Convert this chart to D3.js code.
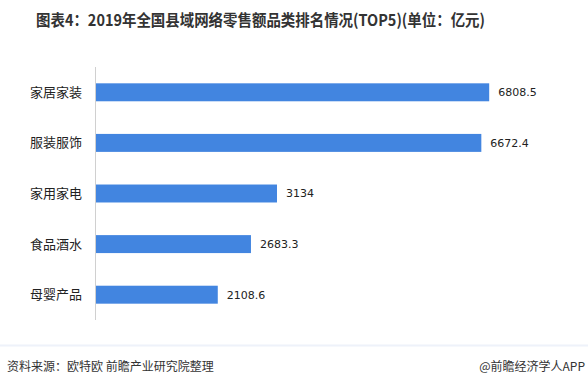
<!DOCTYPE html>
<html>
<head>
<meta charset="utf-8">
<script src="https://cdn.jsdelivr.net/npm/d3@7"></script>
<style>
  body { margin: 0; background: #fff; }
  svg { display: block; font-family: "Noto Sans CJK SC", "Microsoft YaHei", sans-serif; }
</style>
</head>
<body>
<svg id="chart" width="588" height="386"></svg>
<script>
// data
const categories = ['家居家装', '服装服饰', '家用家电', '食品酒水', '母婴产品'];
const values = [6808.5, 6672.4, 3134, 2683.3, 2108.6];
const valueLabels = ['6808.5', '6672.4', '3134', '2683.3', '2108.6'];

const svg = d3.select('#chart');

// title
svg.append('text')
    .attr('x', 36)
    .attr('y', 26)
    .attr('font-size', 16)
    .attr('font-weight', 'bold')
    .attr('fill', '#333')
    .attr('textLength', 449)
    .attr('lengthAdjust', 'spacingAndGlyphs')
    .text('图表4：2019年全国县域网络零售额品类排名情况(TOP5)(单位：亿元)');

const x = d3.scaleLinear()
    .domain([0, 8000])
    .range([96, 558]);

const y = d3.scaleBand()
    .domain(categories)
    .range([67, 320])
    .paddingInner(0.645)
    .paddingOuter(0.3225);

// y axis line
svg.append('line')
    .attr('x1', 95.5).attr('x2', 95.5)
    .attr('y1', 67).attr('y2', 320)
    .attr('stroke', '#d0d0d0')
    .attr('stroke-width', 1);

// bars
svg.append('g')
    .selectAll('rect')
    .data(categories)
    .enter().append('rect')
    .attr('x', x(0))
    .attr('y', d => y(d))
    .attr('width', (d, i) => x(values[i]) - x(0))
    .attr('height', y.bandwidth())
    .attr('fill', '#4285e0');

// category labels
svg.append('g')
    .selectAll('text')
    .data(categories)
    .enter().append('text')
    .attr('x', 82)
    .attr('y', d => y(d) + y.bandwidth() / 2)
    .attr('dy', '0.35em')
    .attr('text-anchor', 'end')
    .attr('font-size', 13)
    .attr('fill', '#222')
    .text(d => d);

// value labels
svg.append('g')
    .selectAll('text')
    .data(categories)
    .enter().append('text')
    .attr('x', (d, i) => x(values[i]) + 9)
    .attr('y', d => y(d) + y.bandwidth() / 2)
    .attr('dy', '0.35em')
    .attr('font-size', 11)
    .attr('font-family', 'DejaVu Sans, sans-serif')
    .attr('fill', '#222')
    .text((d, i) => valueLabels[i]);

// footer
svg.append('rect')
    .attr('x', 0).attr('y', 344.5)
    .attr('width', 588).attr('height', 2)
    .attr('fill', '#eef2fa');

svg.append('text')
    .attr('x', 7)
    .attr('y', 371)
    .attr('font-size', 12)
    .attr('fill', '#333')
    .text('资料来源：欧特欧 前瞻产业研究院整理');

svg.append('text')
    .attr('x', 585)
    .attr('y', 371)
    .attr('text-anchor', 'end')
    .attr('font-size', 12)
    .attr('fill', '#333')
    .text('@前瞻经济学人APP');
</script>
</body>
</html>
